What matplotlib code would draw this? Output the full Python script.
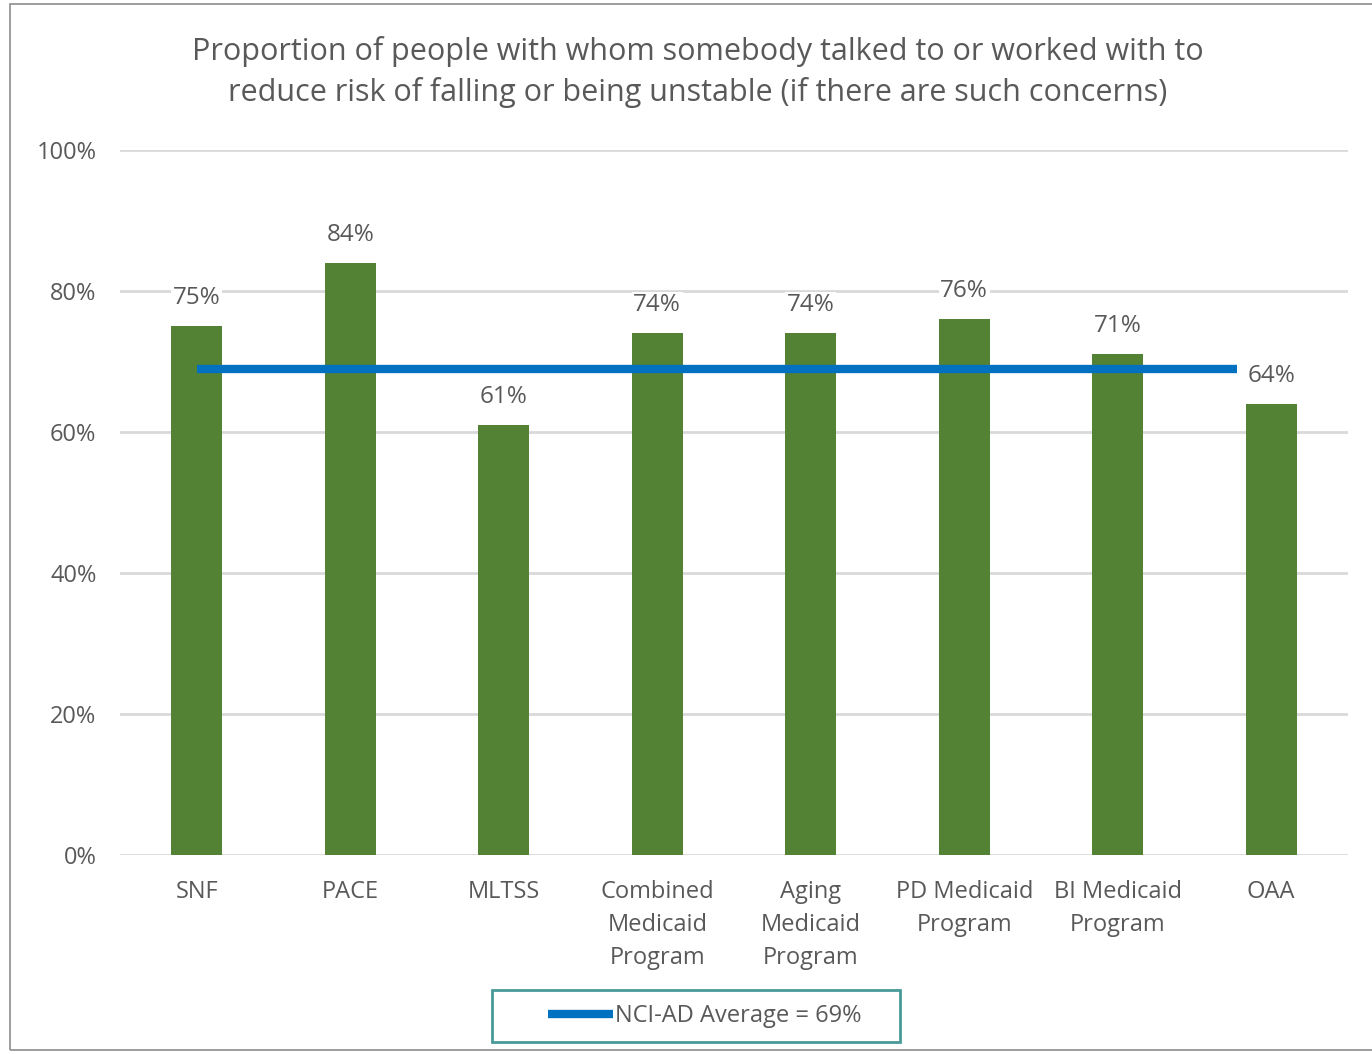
import numpy as np
import matplotlib.pyplot as plt
from matplotlib.patches import Rectangle

categories = ['SNF', 'PACE', 'MLTSS', 'Combined\nMedicaid\nProgram', 'Aging\nMedicaid\nProgram',
              'PD Medicaid\nProgram', 'BI Medicaid\nProgram', 'OAA']
values = [75, 84, 61, 74, 74, 76, 71, 64]
average = 69
avg_label = 'NCI-AD Average = 69%'
title = ('Proportion of people with whom somebody talked to or worked with to\n'
         'reduce risk of falling or being unstable (if there are such concerns)')

text_color = '#595959'
plt.rcParams['font.family'] = ['Open Sans', 'DejaVu Sans']

fig = plt.figure(figsize=(13.72, 10.54), dpi=100)
ax = fig.add_axes([120 / 1372, 1 - 855 / 1054, 1228 / 1372, 705 / 1054])

x = np.arange(len(categories))
ax.bar(x, values, width=0.33, color='#548235', zorder=2)
ax.plot([x[0], x[-1] - 0.22], [average, average], color='#0070C0', lw=6,
        solid_capstyle='butt', zorder=3, label=avg_label)

for xi, v in zip(x, values):
    ax.text(xi, v + 4.0, f'{v}%', ha='center', va='center', fontsize=17.5,
            color=text_color, zorder=4,
            bbox=dict(facecolor='white', edgecolor='none', pad=1))

ax.set_xlim(-0.5, len(categories) - 0.5)
ax.set_ylim(0, 100)
ax.set_yticks(np.arange(0, 101, 20))
ax.set_yticklabels([f'{t}%' for t in range(0, 101, 20)])
ax.set_xticks(x)
ax.set_xticklabels(categories, linespacing=1.5)
ax.tick_params(axis='both', length=0, labelsize=17, labelcolor=text_color)
ax.tick_params(axis='y', pad=17)
ax.tick_params(axis='x', pad=18)
ax.yaxis.grid(True, color='#D9D9D9', lw=2, zorder=0)
for s in ax.spines.values():
    s.set_visible(False)

fig.text(698 / 1372, 1 - 72 / 1054, title, ha='center', va='center', fontsize=22,
         color=text_color, linespacing=1.38)

leg = fig.legend(loc='center', bbox_to_anchor=(705 / 1372, 1 - 1016 / 1054),
                 fontsize=17, frameon=False, handlelength=2.75,
                 handletextpad=0.1, borderaxespad=0)
for t in leg.get_texts():
    t.set_color(text_color)
fig.patches.append(Rectangle((492 / 1372, 1 - 1042 / 1054), 408 / 1372, 52 / 1054,
                             transform=fig.transFigure, fill=False,
                             edgecolor='#4A9A9A', lw=2))

fig.patches.append(Rectangle((10 / 1372, 4 / 1054), 1.2, 1 - 8 / 1054,
                             transform=fig.transFigure, fill=False,
                             edgecolor='#8C8C8C', lw=1.2))

fig.savefig('out.png', dpi=100)
